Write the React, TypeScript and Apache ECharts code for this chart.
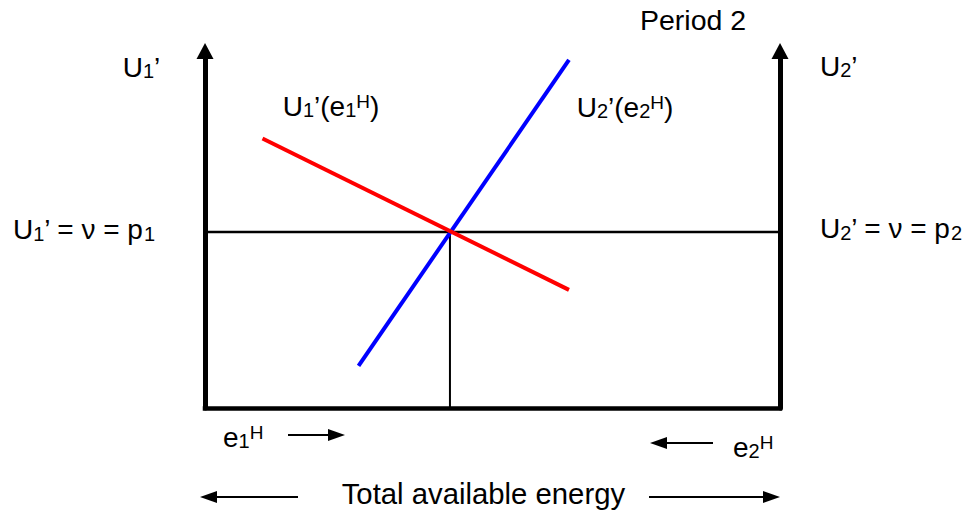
import React, { useEffect, useRef } from "react";
import * as echarts from "echarts";

// Data (in axis units, 0..100 on both axes)
const axisMin = 0;
const axisMax = 100;
const u1Curve: [number, number][] = [
  [10, 75.5],
  [63.3, 33.1],
];
const u2Curve: [number, number][] = [
  [26.7, 11.8],
  [63.3, 97.5],
];
const priceLevel = 49.3;
const equilibriumShare = 42.6;

const FONT = "'Liberation Sans', Arial, Helvetica, sans-serif";

function makeRich(size: number) {
  return {
    m: { fontSize: size, lineHeight: size, fontFamily: FONT, fill: "#000" },
    s: { fontSize: 20, lineHeight: 13, verticalAlign: "bottom", fontFamily: FONT, fill: "#000" },
    h: { fontSize: 19, lineHeight: 19, verticalAlign: "top", fontFamily: FONT, fill: "#000" },
  };
}

function label(text: string, x: number, y: number, size = 28) {
  return {
    type: "text",
    x,
    y,
    silent: true,
    style: {
      text,
      rich: makeRich(size),
      fontSize: size,
      fontFamily: FONT,
      fill: "#000",
      align: "left",
      verticalAlign: "middle",
    },
  };
}

function arrow(x1: number, x2: number, y: number) {
  const dir = x2 > x1 ? 1 : -1;
  const headLen = 17;
  const half = 6;
  return [
    {
      type: "line",
      silent: true,
      shape: { x1, y1: y, x2: x2 - dir * headLen + dir * 2, y2: y },
      style: { stroke: "#000", lineWidth: 2 },
    },
    {
      type: "polygon",
      silent: true,
      shape: {
        points: [
          [x2, y],
          [x2 - dir * headLen, y - half],
          [x2 - dir * headLen, y + half],
        ],
      },
      style: { fill: "#000" },
    },
  ];
}

export default function App() {
  const ref = useRef<HTMLDivElement>(null);
  useEffect(() => {
    if (!ref.current) return;
    const chart = echarts.init(ref.current, undefined, { renderer: "svg" });
    const hiddenAxisParts = {
      axisTick: { show: false },
      axisLabel: { show: false },
      splitLine: { show: false },
    };
    const verticalAxis = (position: string) => ({
      type: "value",
      position,
      min: axisMin,
      max: axisMax,
      axisLine: {
        show: true,
        onZero: false,
        symbol: ["none", "triangle"],
        symbolSize: [17, 16],
        lineStyle: { color: "#000", width: 5 },
      },
      ...hiddenAxisParts,
    });
    chart.setOption({
      animation: false,
      backgroundColor: "#fff",
      grid: { left: 205, right: 189, top: 51, bottom: 106, containLabel: false },
      xAxis: {
        type: "value",
        min: axisMin,
        max: axisMax,
        axisLine: {
          show: true,
          onZero: false,
          lineStyle: { color: "#000", width: 4.5, cap: "square" },
        },
        ...hiddenAxisParts,
      },
      yAxis: [verticalAxis("left"), verticalAxis("right")],
      series: [
        {
          type: "line",
          data: [
            [axisMin, priceLevel],
            [axisMax, priceLevel],
          ],
          symbol: "none",
          silent: true,
          lineStyle: { color: "#000", width: 2.5 },
        },
        {
          type: "line",
          data: [
            [equilibriumShare, axisMin],
            [equilibriumShare, priceLevel],
          ],
          symbol: "none",
          silent: true,
          lineStyle: { color: "#000", width: 2 },
        },
        {
          type: "line",
          data: u2Curve,
          symbol: "none",
          silent: true,
          lineStyle: { color: "#0000ff", width: 4 },
        },
        {
          type: "line",
          data: u1Curve,
          symbol: "none",
          silent: true,
          lineStyle: { color: "#ff0000", width: 4 },
        },
      ],
      graphic: [
        label("{m|Period 2}", 640, 20.3, 28.5),
        label("{m|U}{s|1}{m|’}", 122.7, 67.3),
        label("{m|U}{s|2}{m|’}", 820, 66.3),
        label("{m|U}{s|1}{m|’ = ν = p}{s|1}", 13, 229.5),
        label("{m|U}{s|2}{m|’ = ν = p}{s|2}", 820, 228.5),
        label("{m|U}{s|1}{m|’(e}{s|1}{h|H}{m|)}", 282.7, 106.3),
        label("{m|U}{s|2}{m|’(e}{s|2}{h|H}{m|)}", 576.7, 107),
        label("{m|e}{s|1}{h|H}", 223, 437.3),
        label("{m|e}{s|2}{h|H}", 733, 447),
        label("{m|Total available energy}", 341.7, 493.6, 29.3),
        ...arrow(288, 345, 435),
        ...arrow(713, 650, 443),
        ...arrow(298, 200, 497),
        ...arrow(649, 780, 497),
      ],
    });
    return () => chart.dispose();
  }, []);
  return (
    <div
      ref={ref}
      style={{ position: "fixed", left: 0, top: 0, width: 969, height: 514, background: "#fff" }}
    />
  );
}
